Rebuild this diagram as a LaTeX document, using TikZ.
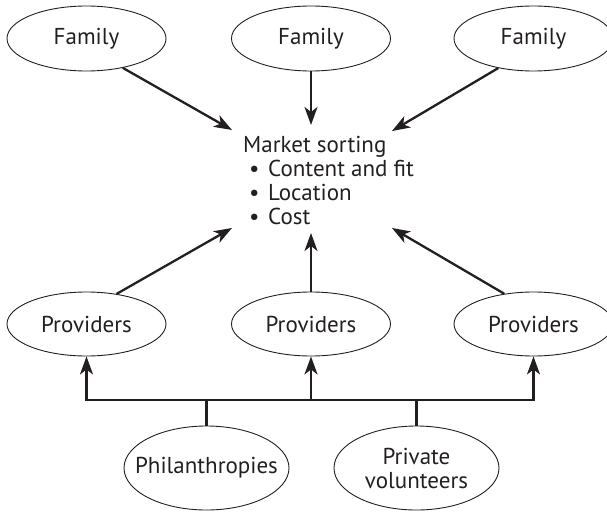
\documentclass[tikz,border=0pt]{standalone}
\usepackage{fontspec}
\setmainfont{PT Sans}
\usetikzlibrary{shapes.geometric,arrows.meta}
\definecolor{ink}{RGB}{35,31,32}
\begin{document}
\begin{tikzpicture}[x=1pt,y=-1pt,
  oval/.style={ellipse, draw=ink, line width=0.9pt, inner sep=0pt,
    minimum width=159pt, minimum height=65pt, text=ink,
    font=\fontsize{23}{24}\selectfont, align=center},
  big/.style={minimum width=165pt, minimum height=84pt},
  conn/.style={draw=ink, line width=2.3pt},
  tip/.tip={Stealth[length=18pt,width=13pt,inset=5pt]},
  arr/.style={conn, -tip},
  duo/.style={conn, tip-tip},
]
\useasboundingbox (0,0) rectangle (607,513);
% top row
\node[oval] (f1) at (86.5,38.5) {Family};
\node[oval] (f2) at (311,38.5) {Family};
\node[oval] (f3) at (533.5,38.5) {Family};
% middle text
\node[anchor=north west, inner sep=0pt, align=left, text=ink,
  font=\fontsize{23}{24}\selectfont] (ms) at (243,136.5)
  {Market sorting\\
   \hspace*{6pt}\makebox[19pt][l]{\textbullet}Content and fit\\
   \hspace*{6pt}\makebox[19pt][l]{\textbullet}Location\\
   \hspace*{6pt}\makebox[19pt][l]{\textbullet}Cost};
\coordinate (t1) at (232,130);
\coordinate (t2) at (311,125);
\coordinate (t3) at (392,131);
\coordinate (t4) at (232,228);
\coordinate (t5) at (311,233);
\coordinate (t6) at (392,228);
% providers
\node[oval, minimum height=64pt] (pl) at (86.5,324) {Providers};
\node[oval, minimum height=64pt] (pm) at (311,324) {Providers};
\node[oval, minimum height=64pt] (pr) at (533.5,324) {Providers};
% bottom
\node[oval, big] (phil) at (206.5,468) {\makebox[0pt]{Philanthropies}};
\node[oval, big] (priv) at (416.5,468) {Private\\volunteers};
% bus coordinates
\coordinate (busL) at (86.5,400);
\coordinate (busM) at (311,400);
\coordinate (busR) at (533.5,400);
% arrows into market sorting
\draw[arr] (f1.-39) -- (t1);
\draw[arr] (f2.south) -- (t2);
\draw[arr] (f3.220) -- (t3);
\draw[arr] (pl.45) -- (t4);
\draw[arr] (pm.north) -- (t5);
\draw[arr] (pr.134) -- (t6);
% bus
\draw[duo] (pl.south) -- (busL) -- (busR) -- (pr.south);
\draw[arr] (busM) -- (pm.south);
\draw[conn] (phil.north) -- (phil.north |- busL);
\draw[conn] (priv.north) -- (priv.north |- busL);
\end{tikzpicture}
\end{document}
